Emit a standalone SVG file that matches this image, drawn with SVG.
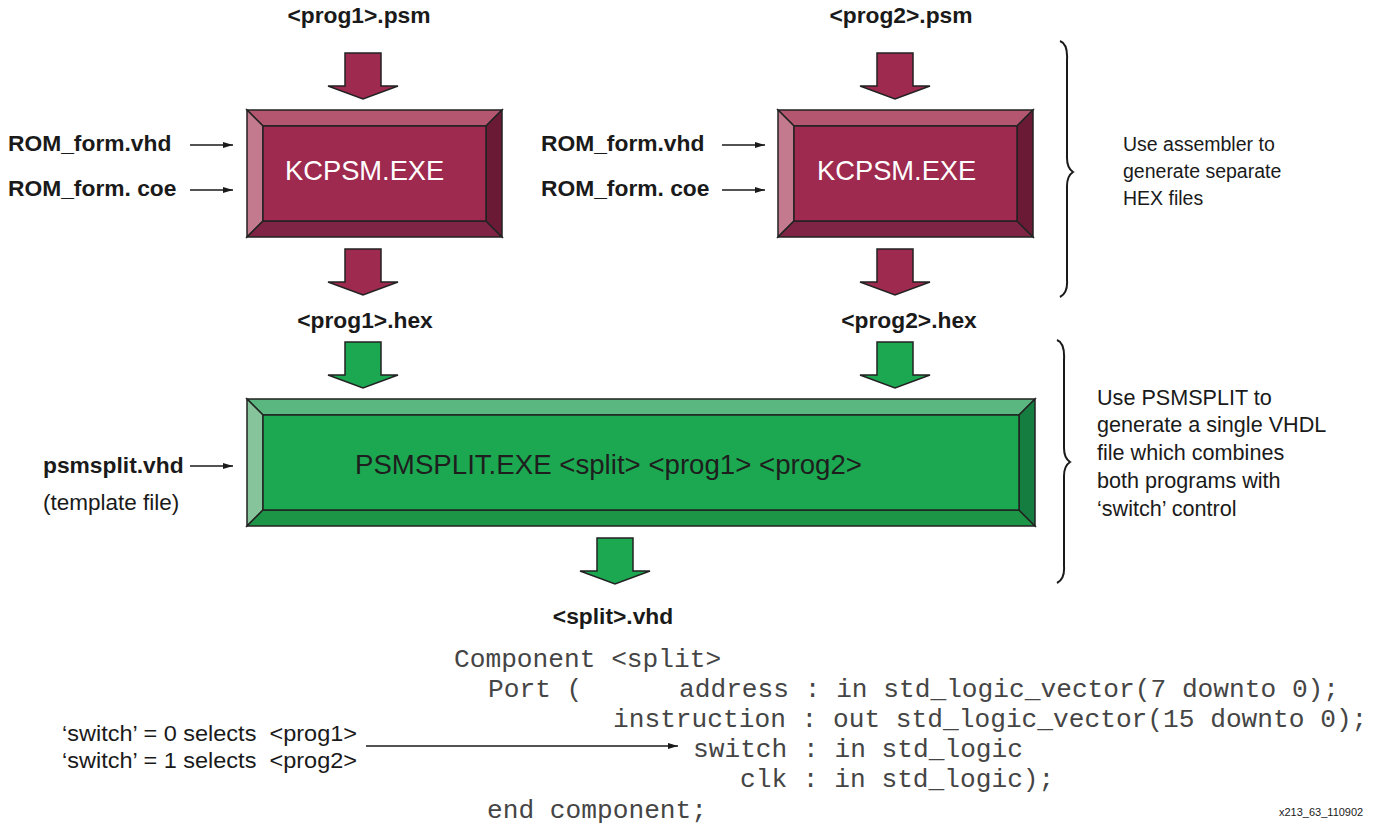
<svg xmlns="http://www.w3.org/2000/svg" width="1382" height="825" viewBox="0 0 1382 825">
<style>
.lbl{font-family:"Liberation Sans",Arial,sans-serif;font-weight:bold;font-size:22.8px;fill:#1a1a1a}
.txt{font-family:"Liberation Sans",Arial,sans-serif;font-size:19.5px;fill:#1a1a1a}
.txt2{font-family:"Liberation Sans",Arial,sans-serif;font-size:21.6px;fill:#1a1a1a}
.code{font-family:"Liberation Mono","Courier New",monospace;font-size:26.2px;fill:#454545}
.edge{stroke:#222;stroke-width:1.5;stroke-linejoin:miter}
.pm{fill:#9f2a4f}.pt{fill:#b4566f}.pl{fill:#c47a8e}.pb{fill:#7f2444}.pr{fill:#6b1a36}
.gm{fill:#1ca851}.gt{fill:#5ab77f}.gl{fill:#86c59c}.gb{fill:#1c9547}.gr{fill:#167d40}
.thin{stroke:#1a1a1a;stroke-width:1.3;fill:none}
.brace{stroke:#1a1a1a;stroke-width:2;fill:none}
</style>
<defs>
<marker id="ah" viewBox="0 0 10 6" refX="10" refY="3" markerWidth="10" markerHeight="6" markerUnits="userSpaceOnUse" orient="auto"><path d="M0,0 L10,3 L0,6 Z" fill="#1a1a1a"/></marker>
<path id="bigarrow" d="M-18,0 H18 V33 H35 L0,46 L-35,33 H-18 Z"/>
</defs>

<g id="kcpsm1">
<polygon class="pt edge" points="247,110 502,110 486,126 263,126"/>
<polygon class="pl edge" points="247,110 263,126 263,221 247,237"/>
<polygon class="pb edge" points="247,237 263,221 486,221 502,237"/>
<polygon class="pr edge" points="502,110 502,237 486,221 486,126"/>
<rect class="pm edge" x="263" y="126" width="223" height="95"/>
<text x="285" y="180" font-family="Liberation Sans,Arial,sans-serif" font-size="27.3" fill="#fff">KCPSM.EXE</text>
</g>

<g id="kcpsm2">
<polygon class="pt edge" points="778,110 1033,110 1017,126 794,126"/>
<polygon class="pl edge" points="778,110 794,126 794,221 778,237"/>
<polygon class="pb edge" points="778,237 794,221 1017,221 1033,237"/>
<polygon class="pr edge" points="1033,110 1033,237 1017,221 1017,126"/>
<rect class="pm edge" x="794" y="126" width="223" height="95"/>
<text x="817" y="180" font-family="Liberation Sans,Arial,sans-serif" font-size="27.3" fill="#fff">KCPSM.EXE</text>
</g>

<g id="psmsplit">
<polygon class="gt edge" points="247,399 1035,399 1019,415 263,415"/>
<polygon class="gl edge" points="247,399 263,415 263,510 247,526"/>
<polygon class="gb edge" points="247,526 263,510 1019,510 1035,526"/>
<polygon class="gr edge" points="1035,399 1035,526 1019,510 1019,415"/>
<rect class="gm edge" x="263" y="415" width="756" height="95"/>
<text x="355" y="474" font-family="Liberation Sans,Arial,sans-serif" font-size="27" fill="#1e1e1e" textLength="507" lengthAdjust="spacingAndGlyphs">PSMSPLIT.EXE &lt;split&gt; &lt;prog1&gt; &lt;prog2&gt;</text>
</g>

<g id="arrows">
<use href="#bigarrow" x="363" y="53" class="pm edge"/>
<use href="#bigarrow" x="895" y="53" class="pm edge"/>
<use href="#bigarrow" x="363" y="249" class="pm edge"/>
<use href="#bigarrow" x="895" y="249" class="pm edge"/>
<use href="#bigarrow" x="363" y="342" class="gm edge"/>
<use href="#bigarrow" x="895" y="342" class="gm edge"/>
<use href="#bigarrow" x="615" y="538" class="gm edge"/>
</g>

<g id="connectors">
<line class="thin" x1="190" y1="145" x2="233" y2="145" marker-end="url(#ah)"/>
<line class="thin" x1="190" y1="190" x2="233" y2="190" marker-end="url(#ah)"/>
<line class="thin" x1="722" y1="145" x2="765" y2="145" marker-end="url(#ah)"/>
<line class="thin" x1="722" y1="190" x2="765" y2="190" marker-end="url(#ah)"/>
<line class="thin" x1="190" y1="466" x2="233" y2="466" marker-end="url(#ah)"/>
<line class="thin" x1="366" y1="746" x2="678" y2="746" marker-end="url(#ah)"/>
</g>

<g id="labels">
<text class="lbl" x="359" y="23" text-anchor="middle">&lt;prog1&gt;.psm</text>
<text class="lbl" x="901" y="23" text-anchor="middle">&lt;prog2&gt;.psm</text>
<text class="lbl" x="8" y="151">ROM_form.vhd</text>
<text class="lbl" x="8" y="196">ROM_form. coe</text>
<text class="lbl" x="541" y="151">ROM_form.vhd</text>
<text class="lbl" x="541" y="196">ROM_form. coe</text>
<text class="lbl" x="365" y="328" text-anchor="middle">&lt;prog1&gt;.hex</text>
<text class="lbl" x="909" y="328" text-anchor="middle">&lt;prog2&gt;.hex</text>
<text class="lbl" x="43" y="473">psmsplit.vhd</text>
<text class="txt2" x="43" y="510" style="font-size:22.5px">(template file)</text>
<text class="lbl" x="613" y="624" text-anchor="middle">&lt;split&gt;.vhd</text>
</g>

<g id="notes">
<path class="brace" d="M1060,41 Q1068,44 1067,60 L1067,158 Q1067,168 1073,172 Q1067,176 1067,186 L1067,280 Q1068,293 1060,297"/>
<text class="txt" x="1123" y="151">Use assembler to</text>
<text class="txt" x="1123" y="178">generate separate</text>
<text class="txt" x="1123" y="205">HEX files</text>
<path class="brace" d="M1057,340 Q1065,343 1064,360 L1064,448 Q1064,458 1070,462 Q1064,466 1064,476 L1064,566 Q1065,579 1057,583"/>
<text class="txt2" x="1097" y="405">Use PSMSPLIT to</text>
<text class="txt2" x="1097" y="432">generate a single VHDL</text>
<text class="txt2" x="1097" y="460">file which combines</text>
<text class="txt2" x="1097" y="488">both programs with</text>
<text class="txt2" x="1097" y="516">‘switch’ control</text>
</g>

<g id="code">
<text class="code" x="454" y="667">Component &lt;split&gt;</text>
<text class="code" x="488" y="697">Port (</text>
<text class="code" x="679" y="697">address : in std_logic_vector(7 downto 0);</text>
<text class="code" x="613" y="727">instruction : out std_logic_vector(15 downto 0);</text>
<text class="code" x="693" y="757">switch : in std_logic</text>
<text class="code" x="740" y="787">clk : in std_logic);</text>
<text class="code" x="487" y="818">end component;</text>
</g>

<g id="switch-note">
<text class="txt2" x="62" y="741" xml:space="preserve" textLength="295" lengthAdjust="spacingAndGlyphs">‘switch’ = 0 selects  &lt;prog1&gt;</text>
<text class="txt2" x="62" y="768" xml:space="preserve" textLength="295" lengthAdjust="spacingAndGlyphs">‘switch’ = 1 selects  &lt;prog2&gt;</text>
</g>

<text x="1279" y="816" font-family="Liberation Sans,Arial,sans-serif" font-size="11" fill="#1a1a1a">x213_63_110902</text>
</svg>
